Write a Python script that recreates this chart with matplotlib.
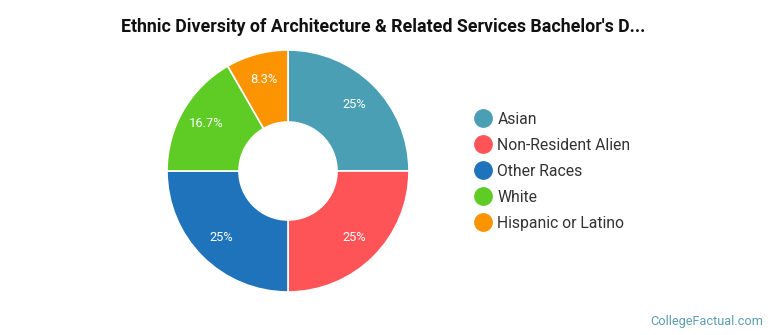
import numpy as np
import matplotlib.pyplot as plt
from matplotlib.lines import Line2D

plt.rcParams['font.family'] = ['Roboto', 'DejaVu Sans']

labels = ['Asian', 'Non-Resident Alien', 'Other Races', 'White', 'Hispanic or Latino']
shares = [25, 25, 25, 16.7, 8.3]
pct_text = ['25%', '25%', '25%', '16.7%', '8.3%']
colors = ['#4a9fb5', '#fe5457', '#1f73bb', '#5fcb25', '#fb9400']

W, H = 770, 335
fig = plt.figure(figsize=(W / 100, H / 100), dpi=100)
ax = fig.add_axes([0, 0, 1, 1])

wedges, _ = ax.pie(shares, colors=colors, startangle=90, counterclock=False,
                   radius=121, center=(288, H - 171),
                   wedgeprops=dict(width=72, edgecolor='white', linewidth=1.2))

# percentage labels inside the ring
for w, t in zip(wedges, pct_text):
    ang = np.deg2rad((w.theta1 + w.theta2) / 2)
    r = 121 * 0.78
    ax.text(288 + r * np.cos(ang), H - 171 + r * np.sin(ang), t,
            color='white', fontsize=9.3, ha='center', va='center')

ax.set_xlim(0, W)
ax.set_ylim(0, H)
ax.set_aspect('equal')
ax.axis('off')

fig.text(383 / W, 1 - 27 / H, "Ethnic Diversity of Architecture & Related Services Bachelor's D...",
         ha='center', va='center', fontsize=12.8, fontweight='bold', color='#111111')

handles = [Line2D([], [], marker='o', linestyle='', markersize=12.5,
                  markerfacecolor=c, markeredgecolor=c) for c in colors]
leg = ax.legend(handles, labels, loc='upper left', bbox_to_anchor=(466 / W, 1 - 104 / H),
                frameon=False, fontsize=11.3, handletextpad=0.3, labelspacing=0.7,
                handlelength=1.2, borderpad=0)
for txt in leg.get_texts():
    txt.set_color('#333333')

fig.text(763 / W, 1 - 321 / H, 'CollegeFactual.com', ha='right', va='center',
         fontsize=9.2, color='#5b9eb0')

fig.savefig('out.png', dpi=100)
